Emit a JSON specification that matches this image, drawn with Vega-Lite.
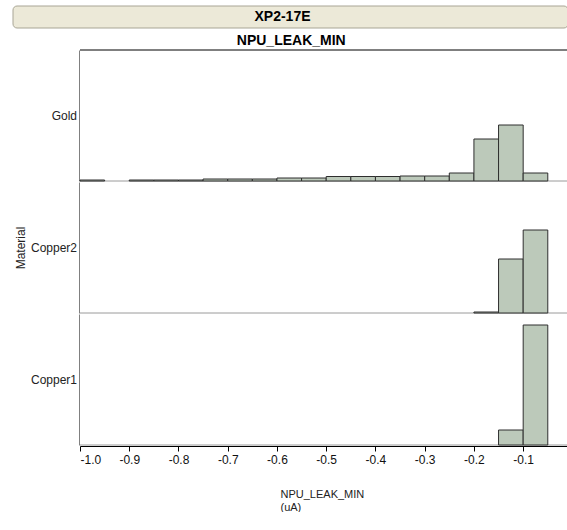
{
  "$schema": "https://vega.github.io/schema/vega-lite/v6.json",
  "padding": {"left": 12, "top": 5, "right": 0, "bottom": 0},
  "background": "white",
  "config": {"font": "Liberation Sans", "view": {"stroke": null}},
  "datasets": {
    "hist": [
      {"Material": "Gold", "bin_start": -1.0, "bin_end": -0.95, "count": 1},
      {"Material": "Gold", "bin_start": -0.9, "bin_end": -0.85, "count": 1},
      {"Material": "Gold", "bin_start": -0.85, "bin_end": -0.8, "count": 1},
      {"Material": "Gold", "bin_start": -0.8, "bin_end": -0.75, "count": 1},
      {"Material": "Gold", "bin_start": -0.75, "bin_end": -0.7, "count": 2},
      {"Material": "Gold", "bin_start": -0.7, "bin_end": -0.65, "count": 2},
      {"Material": "Gold", "bin_start": -0.65, "bin_end": -0.6, "count": 2},
      {"Material": "Gold", "bin_start": -0.6, "bin_end": -0.55, "count": 3},
      {"Material": "Gold", "bin_start": -0.55, "bin_end": -0.5, "count": 3},
      {"Material": "Gold", "bin_start": -0.5, "bin_end": -0.45, "count": 4.5},
      {"Material": "Gold", "bin_start": -0.45, "bin_end": -0.4, "count": 4.5},
      {"Material": "Gold", "bin_start": -0.4, "bin_end": -0.35, "count": 4.5},
      {"Material": "Gold", "bin_start": -0.35, "bin_end": -0.3, "count": 5},
      {"Material": "Gold", "bin_start": -0.3, "bin_end": -0.25, "count": 5},
      {"Material": "Gold", "bin_start": -0.25, "bin_end": -0.2, "count": 8},
      {"Material": "Gold", "bin_start": -0.2, "bin_end": -0.15, "count": 42},
      {"Material": "Gold", "bin_start": -0.15, "bin_end": -0.1, "count": 56},
      {"Material": "Gold", "bin_start": -0.1, "bin_end": -0.05, "count": 8},
      {"Material": "Copper2", "bin_start": -0.2, "bin_end": -0.15, "count": 1},
      {"Material": "Copper2", "bin_start": -0.15, "bin_end": -0.1, "count": 54},
      {"Material": "Copper2", "bin_start": -0.1, "bin_end": -0.05, "count": 83},
      {"Material": "Copper1", "bin_start": -0.15, "bin_end": -0.1, "count": 15},
      {"Material": "Copper1", "bin_start": -0.1, "bin_end": -0.05, "count": 120}
    ]
  },
  "spacing": 4,
  "align": "none",
  "vconcat": [
    {
      "data": {"values": [{"label": "XP2-17E"}]},
      "width": 555,
      "height": 22,
      "layer": [
        {"mark": {"type": "rect", "fill": "#ECE9D8", "stroke": "#A8A595", "strokeWidth": 1, "cornerRadius": 4}, "encoding": {}},
        {"mark": {"type": "text", "fontSize": 14, "fontWeight": "bold", "color": "black", "dx": -8}, "encoding": {"text": {"field": "label", "type": "nominal"}}}
      ]
    },
    {
      "spacing": 0,
      "hconcat": [
        {
          "data": {"values": []},
          "width": 2,
          "height": 10,
          "mark": {"type": "point", "opacity": 0},
          "encoding": {}
        },
        {
          "data": {"name": "hist"},
          "title": {"text": "NPU_LEAK_MIN", "fontSize": 14, "fontWeight": "bold", "color": "black", "anchor": "middle", "offset": 2},
          "spacing": 0,
          "facet": {
            "row": {
              "field": "Material",
              "type": "nominal",
              "sort": ["Gold", "Copper2", "Copper1"],
              "title": "Material",
              "header": {
                "labelAngle": 0,
                "labelAlign": "left",
                "labelPadding": 2,
                "labelFontSize": 12,
                "labelColor": "#222",
                "titleFontSize": 12,
                "titleFontWeight": "normal",
                "titleColor": "#222",
                "titlePadding": -8
              }
            }
          },
          "spec": {
            "width": 487,
            "height": 131,
            "layer": [
              {
                "transform": [{"aggregate": [{"op": "count", "as": "n"}], "groupby": ["Material"]}],
                "mark": {"type": "rule", "color": "#9A9A9A", "strokeWidth": 1},
                "encoding": {"y": {"datum": 0}}
              },
              {
                "transform": [{"filter": "datum.Material == 'Gold'"}, {"aggregate": [{"op": "count", "as": "n"}], "groupby": ["Material"]}],
                "mark": {"type": "rule", "color": "black", "strokeWidth": 1},
                "encoding": {"y": {"datum": 131}}
              },
              {
                "mark": {"type": "bar", "fill": "#BCC9BA", "stroke": "#2E2E2E", "strokeWidth": 1},
                "encoding": {
                  "x": {
                    "field": "bin_start",
                    "type": "quantitative",
                    "scale": {"domain": [-1, -0.011], "nice": false, "zero": false},
                    "axis": {
                      "values": [-1, -0.9, -0.8, -0.7, -0.6, -0.5, -0.4, -0.3, -0.2, -0.1],
                      "format": ".1f",
                      "labelExpr": "replace(datum.label, '\u2212', '-')",
                      "grid": false,
                      "labelFontSize": 12,
                      "labelColor": "#111",
                      "labelPadding": 3,
                      "domainColor": "black",
                      "tickColor": "black",
                      "tickSize": 5,
                      "title": ["NPU_LEAK_MIN", "(uA)"],
                      "titleFontSize": 11,
                      "titleFontWeight": "normal",
                      "titleColor": "#222",
                      "titleAlign": "left",
                      "titleBaseline": "top",
                      "titleX": 200,
                      "titleY": 42,
                      "titleLineHeight": 13
                    }
                  },
                  "x2": {"field": "bin_end"},
                  "y": {
                    "field": "count",
                    "type": "quantitative",
                    "scale": {"domain": [0, 131], "nice": false},
                    "axis": {"labels": false, "ticks": false, "grid": false, "title": null, "domain": true, "domainColor": "#808080"}
                  },
                  "y2": {"datum": 0}
                }
              }
            ]
          }
        }
      ]
    }
  ]
}
